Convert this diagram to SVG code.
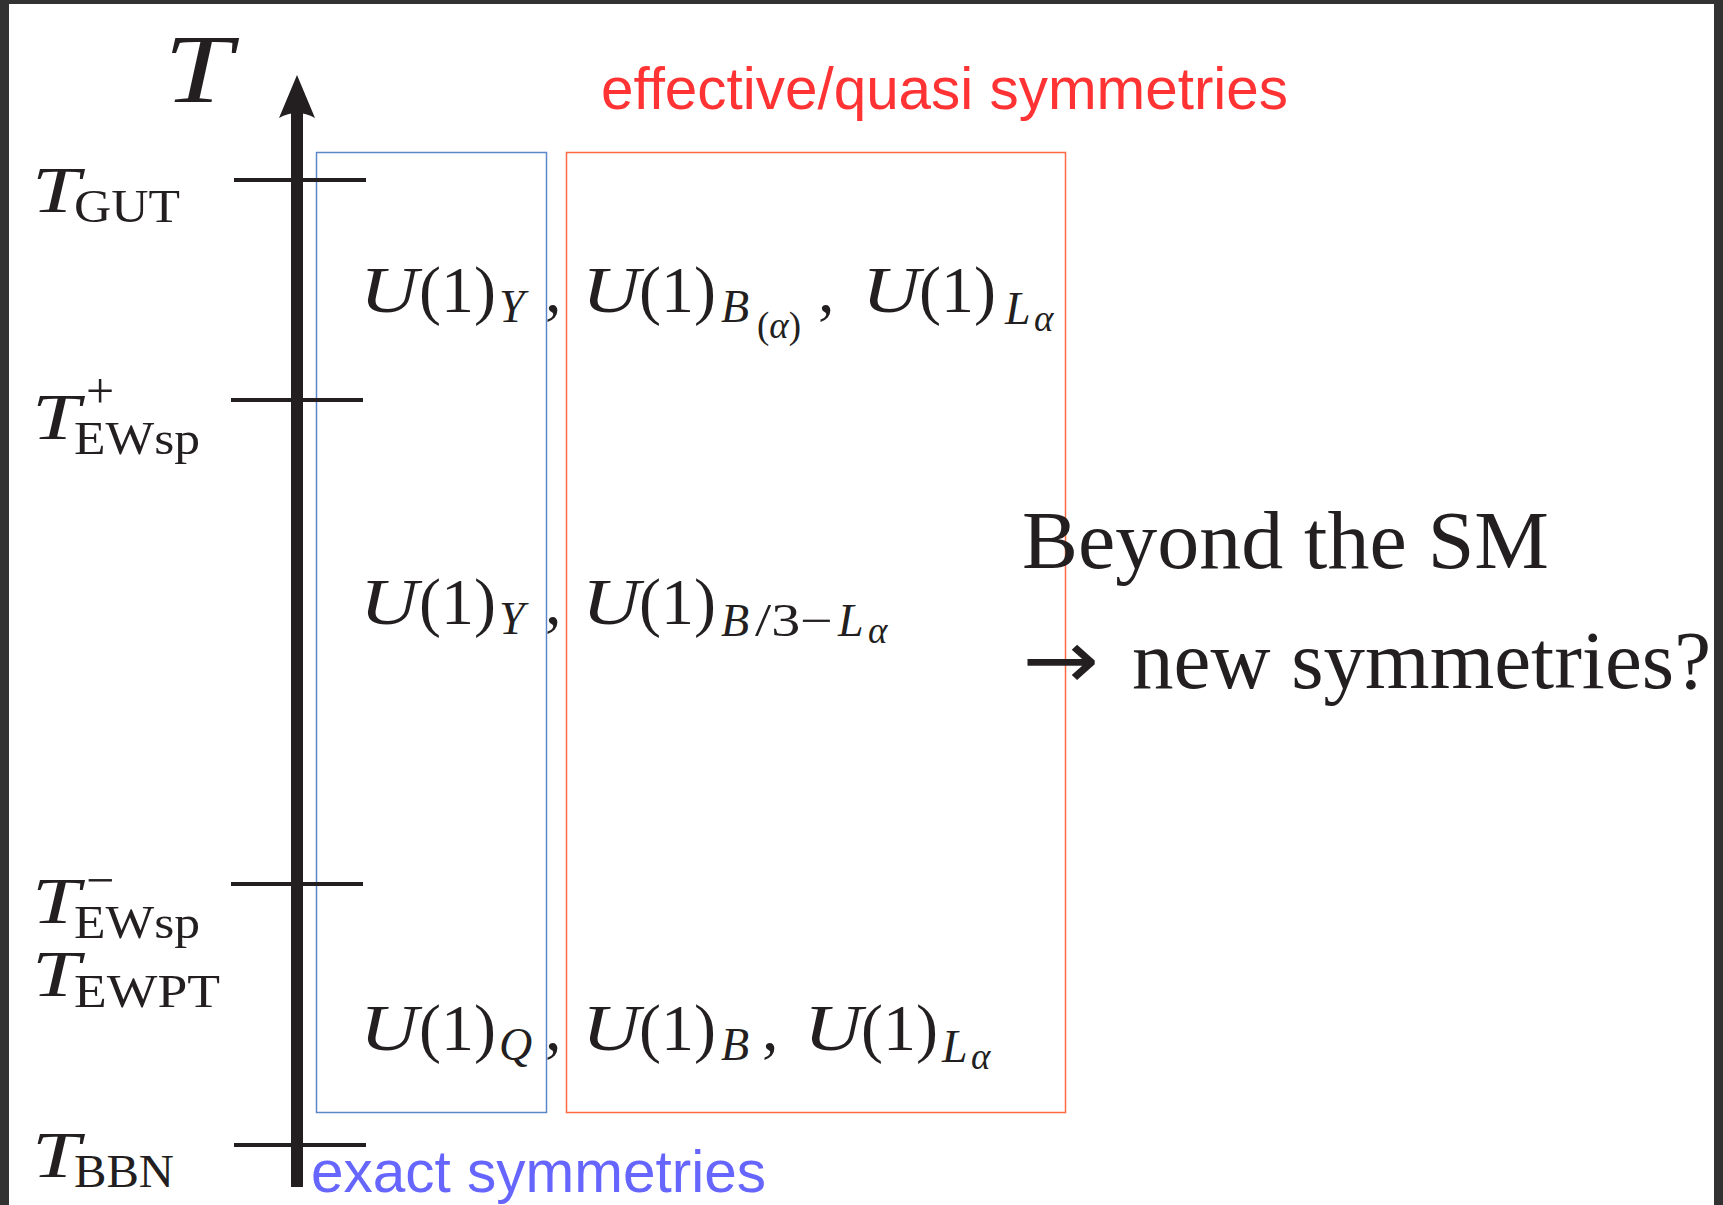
<svg xmlns="http://www.w3.org/2000/svg" width="1723" height="1205" viewBox="0 0 1723 1205">
<style>
.m{font-family:"Liberation Serif","Times New Roman",serif;fill:#231f20}
.i{font-style:italic}
.big{font-size:66px}
.sub{font-size:46px}
.ss{font-size:37px}
.lab{font-size:65px}
.sup{font-size:50px}
.tick{stroke:#231f20;stroke-width:4}
.sans{font-family:"Liberation Sans",Arial,sans-serif}
</style>
<rect x="0" y="0" width="1723" height="1205" fill="#ffffff"/>
<g id="frame" fill="#323232">
<rect x="0" y="0" width="1723" height="4"/>
<rect x="0" y="0" width="9" height="1205"/>
<rect x="1714" y="0" width="9" height="1205"/>
</g>
<g id="boxes" fill="none">
<rect id="exact-box" x="316.5" y="152.5" width="230" height="960" stroke="#5b86c8" stroke-width="1.5"/>
<rect id="quasi-box" x="566.5" y="152.5" width="499" height="960" stroke="#ff6a40" stroke-width="1.5"/>
</g>
<g id="connectors">
<g id="axis" fill="#231f20">
<rect x="291" y="108" width="12" height="1079"/>
<path d="M297,75 L315,118 Q297,108 279,118 Z"/>
</g>
<line class="tick" x1="234" y1="180" x2="366" y2="180"/>
<line class="tick" x1="231" y1="400" x2="363" y2="400"/>
<line class="tick" x1="231" y1="884" x2="363" y2="884"/>
<line class="tick" x1="234" y1="1145" x2="366" y2="1145"/>
</g>
<g id="axis-label"><text class="m i" x="164" y="102" font-size="98" textLength="68" lengthAdjust="spacingAndGlyphs">T</text></g>
<g id="t-gut"><text class="m i lab" x="32" y="212" textLength="48" lengthAdjust="spacingAndGlyphs">T</text><text class="m sub" x="74" y="222" textLength="106" lengthAdjust="spacingAndGlyphs">GUT</text></g>
<g id="t-ewsp-plus"><text class="m i lab" x="32" y="439" textLength="48" lengthAdjust="spacingAndGlyphs">T</text><text class="m sup" x="86" y="408">+</text><text class="m sub" x="74" y="454" textLength="126" lengthAdjust="spacingAndGlyphs">EWsp</text></g>
<g id="t-ewsp-minus"><text class="m i lab" x="32" y="923" textLength="48" lengthAdjust="spacingAndGlyphs">T</text><text class="m sup" x="86" y="897">−</text><text class="m sub" x="74" y="938" textLength="126" lengthAdjust="spacingAndGlyphs">EWsp</text></g>
<g id="t-ewpt"><text class="m i lab" x="32" y="996" textLength="48" lengthAdjust="spacingAndGlyphs">T</text><text class="m sub" x="74" y="1007" textLength="146" lengthAdjust="spacingAndGlyphs">EWPT</text></g>
<g id="t-bbn"><text class="m i lab" x="32" y="1177" textLength="48" lengthAdjust="spacingAndGlyphs">T</text><text class="m sub" x="74" y="1187" textLength="100" lengthAdjust="spacingAndGlyphs">BBN</text></g>
<g id="title-quasi"><text class="sans" x="601" y="109" font-size="60" fill="#ff3333" textLength="687" lengthAdjust="spacingAndGlyphs">effective/quasi symmetries</text></g>
<g id="title-exact"><text class="sans" x="311" y="1192" font-size="60" fill="#6666ff" textLength="455" lengthAdjust="spacingAndGlyphs">exact symmetries</text></g>
<g id="row-gut">
<text class="m"><tspan class="i big" x="360" y="312" textLength="58" lengthAdjust="spacingAndGlyphs">U</tspan><tspan class="big" x="419" y="312">(1)</tspan><tspan class="i sub" x="499" y="322">Y</tspan><tspan class="big" x="545" y="312">,</tspan><tspan class="i big" x="582" y="312" textLength="58" lengthAdjust="spacingAndGlyphs">U</tspan><tspan class="big" x="639" y="312">(1)</tspan><tspan class="i sub" x="721" y="322">B</tspan><tspan class="ss" x="757" y="338">(</tspan><tspan class="i ss" y="338">α</tspan><tspan class="ss" y="338">)</tspan><tspan class="big" x="818" y="312">,</tspan><tspan class="i big" x="862" y="312" textLength="58" lengthAdjust="spacingAndGlyphs">U</tspan><tspan class="big" x="919" y="312">(1)</tspan><tspan class="i sub" x="1005" y="324">L</tspan><tspan class="i ss" x="1034" y="331">α</tspan></text>
</g>
<g id="row-ew">
<text class="m"><tspan class="i big" x="360" y="624" textLength="58" lengthAdjust="spacingAndGlyphs">U</tspan><tspan class="big" x="419" y="624">(1)</tspan><tspan class="i sub" x="499" y="634">Y</tspan><tspan class="big" x="545" y="624">,</tspan><tspan class="i big" x="582" y="624" textLength="58" lengthAdjust="spacingAndGlyphs">U</tspan><tspan class="big" x="639" y="624">(1)</tspan><tspan class="i sub" x="721" y="636">B</tspan><tspan class="sub" x="755" y="636" textLength="78" lengthAdjust="spacingAndGlyphs">/3−</tspan><tspan class="i sub" x="838" y="636">L</tspan><tspan class="i ss" x="868" y="643">α</tspan></text>
</g>
<g id="row-bbn">
<text class="m"><tspan class="i big" x="360" y="1050" textLength="58" lengthAdjust="spacingAndGlyphs">U</tspan><tspan class="big" x="419" y="1050">(1)</tspan><tspan class="i sub" x="499" y="1060">Q</tspan><tspan class="big" x="545" y="1050">,</tspan><tspan class="i big" x="582" y="1050" textLength="58" lengthAdjust="spacingAndGlyphs">U</tspan><tspan class="big" x="639" y="1050">(1)</tspan><tspan class="i sub" x="721" y="1060">B</tspan><tspan class="big" x="762" y="1050">,</tspan><tspan class="i big" x="804" y="1050" textLength="58" lengthAdjust="spacingAndGlyphs">U</tspan><tspan class="big" x="861" y="1050">(1)</tspan><tspan class="i sub" x="942" y="1062">L</tspan><tspan class="i ss" x="971" y="1069">α</tspan></text>
</g>
<g id="bsm">
<text class="m" x="1022" y="568" font-size="82" textLength="527" lengthAdjust="spacingAndGlyphs">Beyond the SM</text>
<text x="1022" y="688" font-family="DejaVu Sans,sans-serif" font-size="82" fill="#231f20" textLength="77" lengthAdjust="spacingAndGlyphs">→</text>
<text class="m" x="1132" y="688" font-size="82" textLength="579" lengthAdjust="spacingAndGlyphs">new symmetries?</text>
</g>
</svg>
